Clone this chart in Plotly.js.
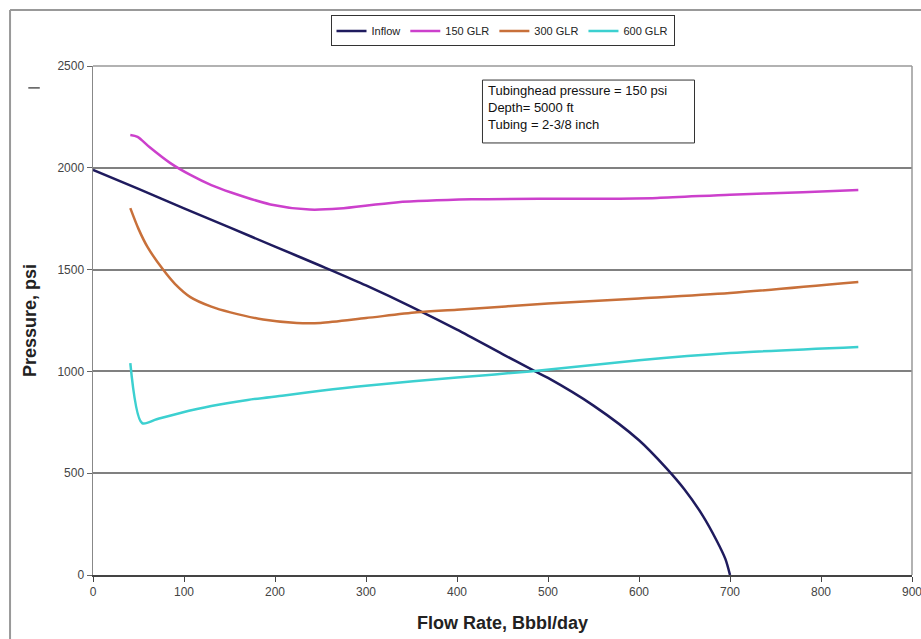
<!DOCTYPE html>
<html>
<head>
<meta charset="utf-8">
<script src="https://cdn.plot.ly/plotly-3.0.1.min.js"></script>
<style>html,body{margin:0;padding:0;background:#fff;}#chart{width:921px;height:639px;}</style>
</head>
<body>
<div id="chart"></div>
<script>
// Inflow performance
var inflowX = [0, 50, 100, 150, 200, 250, 260, 300, 350, 400, 450, 486, 500, 550, 600, 630, 650, 670, 685, 695, 700];
var inflowY = [1990, 1896, 1801, 1707, 1613, 1519, 1500, 1422, 1317, 1205, 1085, 1000, 968, 832, 662, 525, 420, 292, 172, 78, 0];

// 150 GLR
var glr150X = [41, 49, 62, 85, 107, 130, 151, 195, 238, 271, 333, 416, 500, 560, 620, 700, 780, 841];
var glr150Y = [2161, 2152, 2102, 2023, 1965, 1915, 1880, 1820, 1795, 1800, 1830, 1845, 1848, 1848, 1852, 1868, 1880, 1891];

// 300 GLR
var glr300X = [41, 50, 60, 77, 90, 107, 130, 151, 187, 224, 250, 300, 356, 400, 500, 600, 700, 841];
var glr300Y = [1802, 1700, 1610, 1500, 1430, 1365, 1318, 1290, 1255, 1238, 1238, 1262, 1290, 1303, 1333, 1358, 1385, 1439];

// 600 GLR
var glr600X = [41, 54, 70, 96, 130, 170, 210, 250, 300, 400, 480, 600, 700, 841];
var glr600Y = [1041, 746, 765, 796, 830, 860, 882, 905, 930, 970, 1000, 1055, 1090, 1120];

var xTicks = [0, 100, 200, 300, 400, 500, 600, 700, 800, 900];
var yTicks = [0, 500, 1000, 1500, 2000, 2500];

var seriesNames = ['Inflow', '150 GLR', '300 GLR', '600 GLR'];
var seriesColors = ['#1f1b5e', '#cc40cc', '#c8703a', '#3cd0d0'];

var xs = [inflowX, glr150X, glr300X, glr600X];
var ys = [inflowY, glr150Y, glr300Y, glr600Y];

var traces = xs.map(function (x, i) {
  return {
    x: x, y: ys[i], type: 'scatter', mode: 'lines', name: seriesNames[i],
    line: {color: seriesColors[i], width: 2.5, shape: 'spline', smoothing: 0.8}
  };
});

var font = 'Arial, "Liberation Sans", sans-serif';

var layout = {
  width: 921, height: 639,
  margin: {l: 93, r: 9, t: 66, b: 64},
  paper_bgcolor: '#ffffff', plot_bgcolor: '#ffffff',
  font: {family: font, size: 11, color: '#333'},
  showlegend: true,
  legend: {
    orientation: 'h', x: 0.5, xanchor: 'center', y: 1.069, yanchor: 'middle',
    bordercolor: '#333', borderwidth: 1, bgcolor: '#fff',
    font: {family: font, size: 11, color: '#222'},
    itemwidth: 30, tracegroupgap: 0
  },
  xaxis: {
    range: [0, 900], tickvals: xTicks, ticktext: xTicks.map(String),
    showgrid: false, zeroline: false, showline: true, linecolor: '#444', linewidth: 1.5,
    ticks: 'outside', ticklen: 5, tickcolor: '#444', mirror: false,
    ticklabeloverflow: 'allow',
    tickfont: {family: font, size: 12, color: '#444'},
    title: {text: 'Flow Rate, Bbbl/day', font: {family: font, size: 18, color: '#222', weight: 'bold'}, standoff: 18}
  },
  yaxis: {
    range: [0, 2500], tickvals: yTicks, ticktext: yTicks.map(String),
    showgrid: true, gridcolor: '#808080', gridwidth: 2, zeroline: false,
    showline: true, linecolor: '#888', linewidth: 1.5,
    ticks: 'outside', ticklen: 5, tickcolor: '#666',
    tickfont: {family: font, size: 12, color: '#444'},
    title: {text: 'Pressure, psi', font: {family: font, size: 18, color: '#222', weight: 'bold'}, standoff: 16}
  },
  shapes: [
    {type: 'line', xref: 'paper', yref: 'paper', x0: 0, x1: 1, y0: 1, y1: 1, line: {color: '#999', width: 1.5}},
    {type: 'line', xref: 'paper', yref: 'paper', x0: 1, x1: 1, y0: 0, y1: 1, line: {color: '#999', width: 1.5}},
    {type: 'line', xref: 'paper', yref: 'paper', x0: -0.1013, x1: 1.02, y0: 1.11, y1: 1.11, line: {color: '#999', width: 2}},
    {type: 'line', xref: 'paper', yref: 'paper', x0: -0.1013, x1: -0.1013, y0: 1.11, y1: -0.13, line: {color: '#999', width: 2}},
    {type: 'line', xref: 'paper', yref: 'paper', x0: -0.079, x1: -0.065, y0: 0.957, y1: 0.957, line: {color: '#555', width: 1.5}},
    {type: 'rect', xref: 'x', yref: 'y', x0: 428, x1: 661, y0: 2122, y1: 2431, line: {color: '#333', width: 1}, fillcolor: '#fff'}
  ],
  annotations: [{
    xref: 'x', yref: 'y', x: 432, y: 2428, xanchor: 'left', yanchor: 'top', align: 'left',
    showarrow: false,
    text: 'Tubinghead pressure = 150 psi<br>Depth= 5000 ft<br>Tubing = 2-3/8 inch',
    font: {family: font, size: 13, color: '#111'}
  }]
};

Plotly.newPlot('chart', traces, layout, {displayModeBar: false, staticPlot: true});
</script>
</body>
</html>
